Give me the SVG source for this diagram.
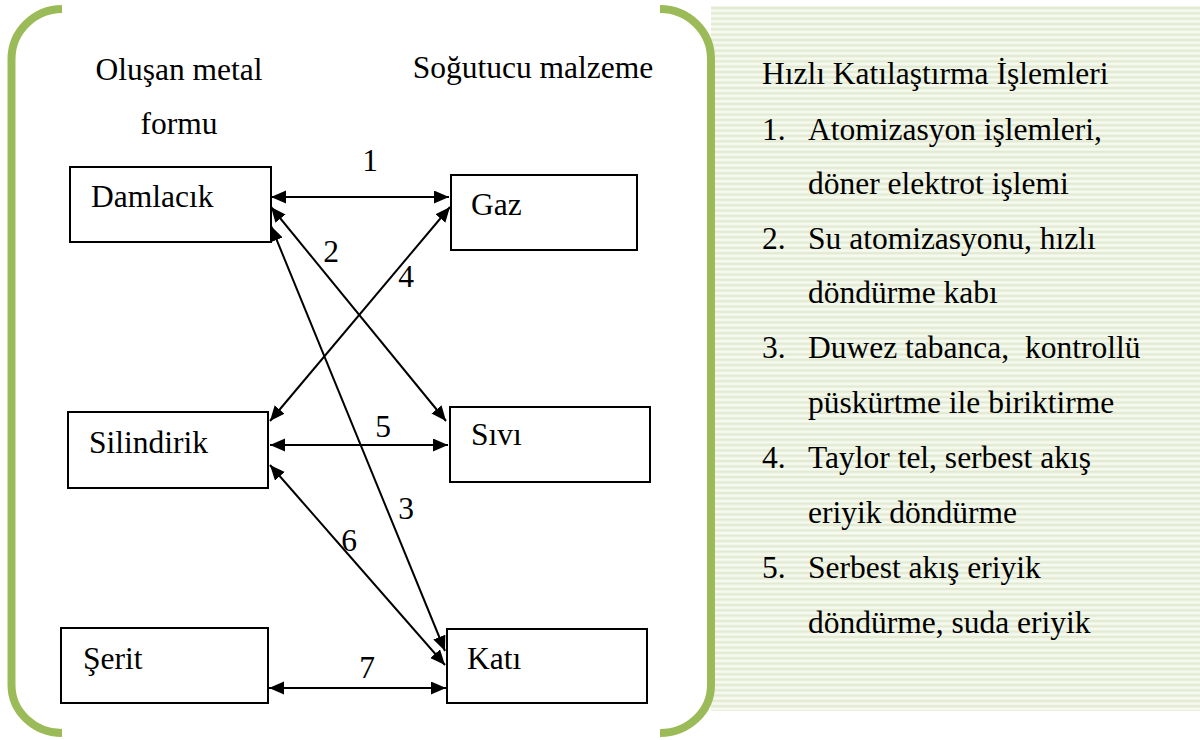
<svg xmlns="http://www.w3.org/2000/svg" width="1200" height="740" viewBox="0 0 1200 740">
<style>
text{font-family:'Liberation Serif','Times New Roman',serif;font-size:31.5px;fill:#000}
.box{fill:#fff;stroke:#000;stroke-width:2}
.con{stroke:#000;stroke-width:2;fill:none;marker-start:url(#ah);marker-end:url(#ah)}
.br{fill:none;stroke:#9bbb59;stroke-width:8}
</style>
<defs>
<marker id="ah" markerUnits="userSpaceOnUse" markerWidth="16" markerHeight="14" refX="15" refY="6.5" orient="auto-start-reverse">
<path d="M0,0 L15,6.5 L0,13 z" fill="#000"/>
</marker>
<pattern id="stripes" patternUnits="userSpaceOnUse" width="20" height="5.33">
<rect width="20" height="5.33" fill="#f6f9f0"/>
<rect y="1.5" width="20" height="2.4" fill="#e2ebd1"/>
</pattern>
</defs>
<rect width="1200" height="740" fill="#fff"/>
<g id="panel">
<rect x="711" y="6" width="489" height="705" fill="url(#stripes)"/>
<text x="762" y="84">Hızlı Katılaştırma İşlemleri</text>
<text x="762" y="140">1.</text><text x="808" y="140">Atomizasyon işlemleri,</text>
<text x="808" y="194">döner elektrot işlemi</text>
<text x="762" y="249">2.</text><text x="808" y="249">Su atomizasyonu, hızlı</text>
<text x="808" y="303">döndürme kabı</text>
<text x="762" y="358">3.</text><text x="808" y="358" xml:space="preserve">Duwez tabanca,  kontrollü</text>
<text x="808" y="413">püskürtme ile biriktirme</text>
<text x="762" y="468">4.</text><text x="808" y="468">Taylor tel, serbest akış</text>
<text x="808" y="523">eriyik döndürme</text>
<text x="762" y="578">5.</text><text x="808" y="578">Serbest akış eriyik</text>
<text x="808" y="633">döndürme, suda eriyik</text>
</g>
<g id="brackets">
<path class="br" d="M62,9 A51,50 0 0 0 11.5,59 L11.5,685 A51,48 0 0 0 62,733"/>
<path class="br" d="M660,9 A51,50 0 0 1 711,59 L711,685 A51,48 0 0 1 660,733"/>
</g>
<g id="headers">
<text x="179" y="80" text-anchor="middle">Oluşan metal</text>
<text x="179" y="134" text-anchor="middle">formu</text>
<text x="533" y="78" text-anchor="middle">Soğutucu malzeme</text>
</g>
<g id="node-damlacik"><rect class="box" x="70" y="167" width="201" height="75"/><text x="91" y="207">Damlacık</text></g>
<g id="node-gaz"><rect class="box" x="451" y="175" width="186" height="75"/><text x="471" y="215">Gaz</text></g>
<g id="node-silindirik"><rect class="box" x="68" y="412" width="200" height="76"/><text x="89" y="453">Silindirik</text></g>
<g id="node-sivi"><rect class="box" x="450" y="407" width="200" height="75"/><text x="471" y="445">Sıvı</text></g>
<g id="node-serit"><rect class="box" x="61" y="628" width="207" height="75"/><text x="83" y="669">Şerit</text></g>
<g id="node-kati"><rect class="box" x="447" y="629" width="200" height="74"/><text x="467" y="669">Katı</text></g>
<g id="connectors">
<line class="con" x1="271" y1="197" x2="449" y2="197"/>
<line class="con" x1="271" y1="207" x2="446" y2="421"/>
<line class="con" x1="271" y1="226" x2="445" y2="651"/>
<line class="con" x1="270" y1="421" x2="450" y2="207"/>
<line class="con" x1="270" y1="445" x2="448" y2="445"/>
<line class="con" x1="270" y1="465" x2="445" y2="665"/>
<line class="con" x1="269" y1="688" x2="446" y2="688"/>
<text x="370" y="171" text-anchor="middle">1</text>
<text x="331" y="262" text-anchor="middle">2</text>
<text x="406" y="287" text-anchor="middle">4</text>
<text x="383" y="437" text-anchor="middle">5</text>
<text x="406" y="519" text-anchor="middle">3</text>
<text x="349" y="551" text-anchor="middle">6</text>
<text x="367" y="678" text-anchor="middle">7</text>
</g>
</svg>
